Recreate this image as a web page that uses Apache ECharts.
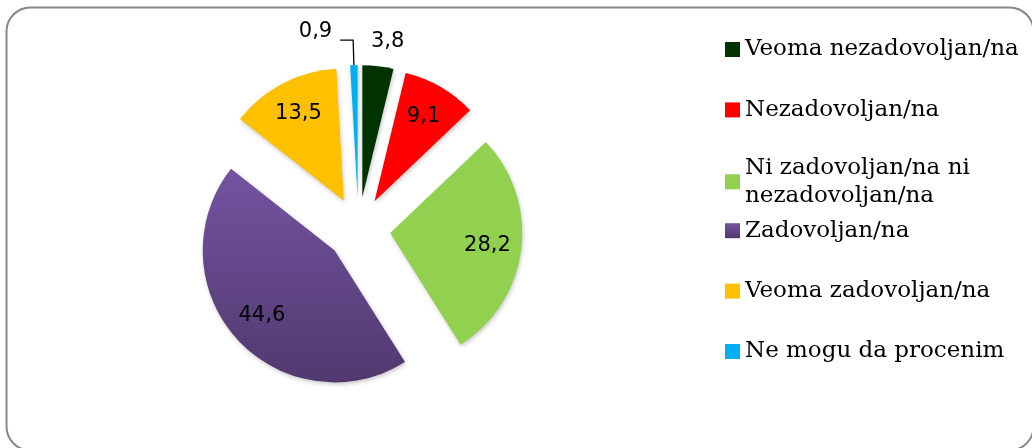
<!DOCTYPE html>
<html><head><meta charset="utf-8">
<script src="https://cdn.jsdelivr.net/npm/echarts@6/dist/echarts.min.js"></script>
<style>html,body{margin:0;padding:0;background:#fff}#c{width:1032px;height:448px}</style>
</head><body><div id="c"></div>
<script>
// ---- data ----
const categories = ['Veoma nezadovoljan/na', 'Nezadovoljan/na', 'Ni zadovoljan/na ni nezadovoljan/na', 'Zadovoljan/na', 'Veoma zadovoljan/na', 'Ne mogu da procenim'];
const values = [3.8, 9.1, 28.2, 44.6, 13.5, 0.9];
const insideLabel = [false, true, true, true, true, false];

// ---- styles ----
const purpleGrad = new echarts.graphic.LinearGradient(0, 0, 0, 1, [
  { offset: 0, color: '#7453A1' }, { offset: 1, color: '#51396F' }
]);
const colors = ['#013301', '#FF0000', '#92D050', purpleGrad, '#FFC000', '#00B0F0'];
const fmt = v => String(v).replace('.', ',');
const CENTER = [358.5, 229];
const R = 132;
const OFFSET = 32;
const labelFont = { fontFamily: 'DejaVu Sans', fontSize: 21, color: '#000' };

const chart = echarts.init(document.getElementById('c'), null, { renderer: 'canvas' });

const mainData = categories.map((name, i) => {
  const item = {
    name, value: values[i], selected: true,
    itemStyle: { color: colors[i] },
    label: { show: false }
  };
  if (i === 0) {
    item.label = { show: true, position: 'outside', distanceToLabelLine: -10 };
    item.labelLine = { show: false, length: 25, length2: 0 };
  } else if (i === 5) {
    item.label = { show: true, position: 'outside', distanceToLabelLine: 8, lineHeight: 18,
      formatter: p => fmt(p.value) + '\n' };
    item.labelLine = { show: true, length: 25, length2: 13, lineStyle: { color: '#000', width: 1.3 } };
  }
  return item;
});

const labelData = categories.map((name, i) => ({
  name, value: values[i], selected: true,
  label: { show: insideLabel[i] }
}));

const legendStep = 60.4;
const legends = categories.map((name, i) => ({
  data: [name],
  orient: 'vertical',
  left: 725,
  top: 49.5 - 14 + i * legendStep,
  padding: 0,
  icon: 'rect',
  itemWidth: 15,
  itemHeight: 15,
  selectedMode: false,
  formatter: n => n.replace(' ni nezadovoljan', ' ni\nnezadovoljan'),
  textStyle: Object.assign({ fontFamily: 'DejaVu Serif', fontSize: 23, color: '#000', lineHeight: 28 },
    i === 2 ? { height: 28 } : {})
}));

chart.setOption({
  animation: false,
  backgroundColor: '#fff',
  graphic: [{
    type: 'rect', z: -1,
    shape: { x: 6.5, y: 7.5, width: 1027, height: 443, r: 24 },
    style: { fill: 'none', stroke: '#878787', lineWidth: 2 }
  }],
  legend: legends,
  series: [{
    type: 'pie',
    center: CENTER,
    radius: [0, R],
    startAngle: 90,
    selectedMode: 'multiple',
    selectedOffset: OFFSET,
    avoidLabelOverlap: false,
    itemStyle: { shadowBlur: 4, shadowColor: 'rgba(0,0,0,0.22)', shadowOffsetX: 1, shadowOffsetY: 2 },
    emphasis: { disabled: true },
    label: Object.assign({ formatter: p => fmt(p.value) }, labelFont),
    data: mainData
  }, {
    type: 'pie',
    silent: true,
    center: CENTER,
    radius: [58, R],
    startAngle: 90,
    selectedMode: 'multiple',
    selectedOffset: OFFSET,
    avoidLabelOverlap: false,
    itemStyle: { color: 'rgba(0,0,0,0)' },
    emphasis: { disabled: true },
    labelLine: { show: false },
    label: Object.assign({ position: 'inside', formatter: p => fmt(p.value) }, labelFont),
    data: labelData
  }]
});
</script></body></html>
